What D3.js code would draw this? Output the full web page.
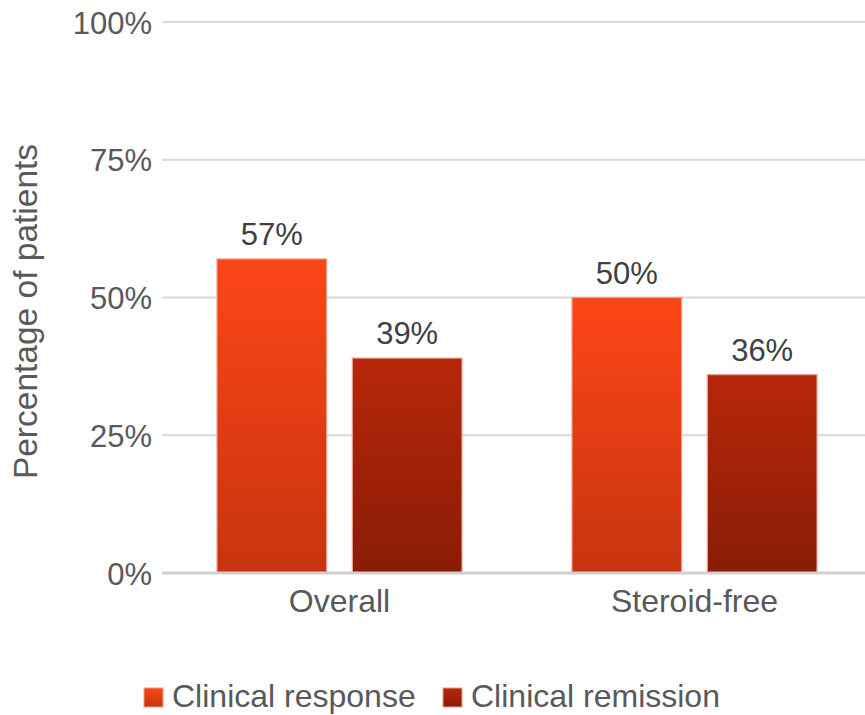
<!DOCTYPE html>
<html>
<head>
<meta charset="utf-8">
<script src="https://cdn.jsdelivr.net/npm/d3@7"></script>
<style>
  html, body { margin: 0; padding: 0; background: #fff; }
  svg { display: block; font-family: "Liberation Sans", Arial, sans-serif; }
</style>
</head>
<body>
<svg id="chart" width="865" height="715"></svg>
<script>
// Categories, series and values
const categories = ["Overall", "Steroid-free"];
const seriesNames = ["Clinical response", "Clinical remission"];
const clinicalResponse = [57, 50];
const clinicalRemission = [39, 36];
const yTicks = [0, 25, 50, 75, 100];

const seriesValues = [clinicalResponse, clinicalRemission];
const gradients = [
  { id: "gradResponse", top: "#fd4617", bottom: "#c73410" },
  { id: "gradRemission", top: "#b7270a", bottom: "#8a1c06" }
];

const svg = d3.select("#chart");
const W = 865, H = 715;
const plot = { left: 162, right: 872, top: 22, bottom: 573 };
const textColor = "#595959";

const defs = svg.append("defs");
gradients.forEach(g => {
  const lg = defs.append("linearGradient")
    .attr("id", g.id).attr("x1", 0).attr("y1", 0).attr("x2", 0).attr("y2", 1);
  lg.append("stop").attr("offset", "0%").attr("stop-color", g.top);
  lg.append("stop").attr("offset", "100%").attr("stop-color", g.bottom);
});

const y = d3.scaleLinear().domain([0, 100]).range([plot.bottom, plot.top]);
const x0 = d3.scaleBand().domain(categories).range([plot.left, plot.right]).paddingInner(0).paddingOuter(0);
const groupPad = 55;
const x1 = d3.scaleBand().domain(seriesNames)
  .range([groupPad, x0.bandwidth() - groupPad]).paddingInner(0.19).paddingOuter(0);

// Gridlines and y tick labels
const yAxis = d3.axisLeft(y).tickValues(yTicks).tickFormat(d => d + "%").tickSize(0).tickPadding(10);
const gy = svg.append("g").attr("transform", `translate(${plot.left},0)`).call(yAxis);
gy.select(".domain").remove();
gy.selectAll("text")
  .attr("font-size", 31).attr("fill", textColor)
  .attr("dy", "0.36em")
  .attr("font-family", "Liberation Sans, Arial, sans-serif");

svg.append("g").selectAll("line")
  .data(yTicks.filter(t => t > 0))
  .join("line")
  .attr("x1", plot.left).attr("x2", W)
  .attr("y1", d => y(d)).attr("y2", d => y(d))
  .attr("stroke", "#d9d9d9").attr("stroke-width", 2);

// Bars
const groups = svg.append("g").selectAll("g")
  .data(categories)
  .join("g")
  .attr("transform", d => `translate(${x0(d)},0)`);

groups.each(function(cat, ci) {
  const g = d3.select(this);
  seriesNames.forEach((s, si) => {
    const v = seriesValues[si][ci];
    g.append("rect")
      .attr("x", x1(s)).attr("width", x1.bandwidth())
      .attr("y", y(v)).attr("height", y(0) - y(v))
      .attr("fill", `url(#${gradients[si].id})`)
      .attr("stroke", "#e8a092").attr("stroke-width", 1.2);
    g.append("text")
      .attr("x", x1(s) + x1.bandwidth() / 2)
      .attr("y", y(v) - 14)
      .attr("text-anchor", "middle")
      .attr("font-size", 31).attr("fill", "#404040")
      .text(v + "%");
  });
});

// Baseline
svg.append("line")
  .attr("x1", plot.left).attr("x2", W)
  .attr("y1", y(0)).attr("y2", y(0))
  .attr("stroke", "#d0d0d0").attr("stroke-width", 3);

// Category labels
const xAxis = d3.axisBottom(x0).tickSize(0).tickPadding(0);
const gx = svg.append("g").attr("transform", `translate(0,${plot.bottom})`).call(xAxis);
gx.select(".domain").remove();
gx.selectAll("text")
  .attr("y", 39).attr("dy", null)
  .attr("font-size", 32).attr("fill", textColor)
  .attr("font-family", "Liberation Sans, Arial, sans-serif");

// Y axis title
svg.append("text")
  .attr("transform", `translate(37,${(plot.top + plot.bottom) / 2 + 14}) rotate(-90)`)
  .attr("text-anchor", "middle")
  .attr("font-size", 33.5).attr("fill", textColor)
  .text("Percentage of patients");

// Legend
const legendX = [144, 443];
const legend = svg.append("g").selectAll("g")
  .data(seriesNames)
  .join("g")
  .attr("transform", (d, i) => `translate(${legendX[i]},688)`);
legend.append("rect")
  .attr("width", 19).attr("height", 19)
  .attr("fill", (d, i) => `url(#${gradients[i].id})`)
  .attr("stroke", "#e8a092").attr("stroke-width", 1);
legend.append("text")
  .attr("x", 28).attr("y", 19)
  .attr("font-size", 32).attr("fill", textColor)
  .text(d => d);
</script>
</body>
</html>
